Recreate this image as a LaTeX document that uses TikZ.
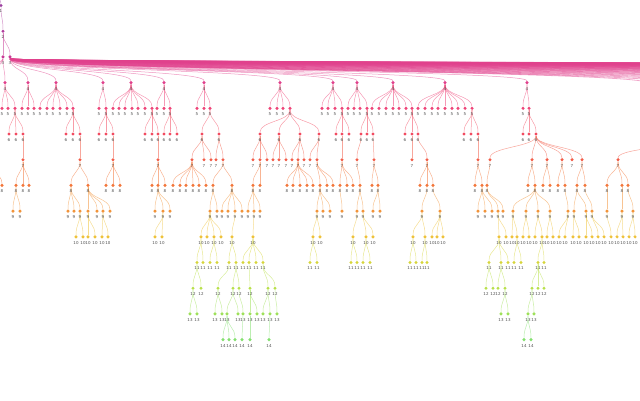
\documentclass[tikz,border=0pt]{standalone}
\usepackage{fontspec}
\setmainfont{DejaVu Sans}
\definecolor{c1}{HTML}{9C3FA0}
\definecolor{c2}{HTML}{B03C9C}
\definecolor{c3}{HTML}{C93A96}
\definecolor{c4}{HTML}{E0408C}
\definecolor{c5}{HTML}{EE4478}
\definecolor{c6}{HTML}{F24A60}
\definecolor{c7}{HTML}{F25C48}
\definecolor{c8}{HTML}{F3763A}
\definecolor{c9}{HTML}{F2943A}
\definecolor{c10}{HTML}{EEC23A}
\definecolor{c11}{HTML}{D6D53A}
\definecolor{c12}{HTML}{B8E04A}
\definecolor{c13}{HTML}{9EE05A}
\definecolor{c14}{HTML}{84E070}
\pgfdeclarelayer{bg}
\pgfsetlayers{bg,main}
\tikzset{
  dot/.style={circle, fill=c#1, draw=none, inner sep=0pt, minimum size=3.4pt},
  lab/.style={font=\fontsize{4}{4}\selectfont, text=black!70, inner sep=0pt},
  edge/.style={c#1, opacity=0.55, line width=0.5pt},
  bund/.style={c4, opacity=0.45, line width=0.8pt}
}
\def\treedata{2/3/1, 3/3/3, 3/10/3,
4/5/3, 4/28/10, 4/56/10, 4/103/10, 4/131/10, 4/164/10, 4/204/10, 4/280/10, 4/333/10, 4/357/10, 4/393/10, 4/445/10, 4/527/10,
5/2/5, 5/8/5, 5/15/5,
5/22/28, 5/28/28, 5/34/28,
5/40/56, 5/47/56, 5/53/56, 5/60/56, 5/67/56, 5/73/56,
5/99/103, 5/106/103,
5/113/131, 5/119/131, 5/125/131, 5/132/131, 5/138/131, 5/145/131, 5/152/131,
5/157/164, 5/164/164, 5/170/164,
5/197/204, 5/204/204, 5/210/204,
5/270/280, 5/277/280, 5/283/280, 5/290/280,
5/322/333, 5/328/333, 5/335/333, 5/342/333,
5/348/357, 5/354/357, 5/360/357, 5/367/357,
5/372/393, 5/379/393, 5/386/393, 5/393/393, 5/399/393, 5/406/393, 5/412/393,
5/418/445, 5/425/445, 5/432/445, 5/438/445, 5/445/445, 5/452/445, 5/458/445, 5/465/445, 5/472/445,
5/523/527, 5/529/527,
6/9/15, 6/16/15, 6/23/15,
6/66/73, 6/73/73, 6/80/73,
6/99/106, 6/106/106, 6/113/106,
6/145/152, 6/152/152, 6/158/152,
6/164/170, 6/170/170, 6/177/170,
6/202/210, 6/219/210,
6/260/290, 6/279/290, 6/300/290, 6/319/290,
6/336/342, 6/342/342, 6/349/342,
6/361/367, 6/367/367, 6/373/367,
6/405/412, 6/412/412, 6/418/412,
6/464/472, 6/471/472, 6/478/472,
6/523/529, 6/529/529, 6/536/529,
7/23/23, 7/80/80, 7/113/113, 7/158/158,
7/192/202, 7/204/202, 7/211/202, 7/216/219, 7/223/219,
7/253/260, 7/260/260, 7/267/260,
7/273/279, 7/279/279, 7/286/279,
7/292/300, 7/298/300, 7/304/300,
7/310/319, 7/317/319,
7/342/342, 7/357/361, 7/374/373,
7/412/412, 7/427/418,
7/478/478, 7/490/536, 7/532/536, 7/547/536, 7/562/536, 7/572/536, 7/582/536,
7/618/o,
8/2/o, 8/16/23, 8/23/23, 8/29/23,
8/71/80, 8/88/80,
8/106/113, 8/113/113, 8/120/113,
8/152/158, 8/158/158, 8/165/158,
8/173/192, 8/180/192, 8/186/192, 8/193/192, 8/199/192, 8/206/192,
8/213/223, 8/232/223,
8/253/260, 8/260/260,
8/287/298, 8/293/298, 8/300/298, 8/307/298, 8/313/298,
8/320/317, 8/327/317, 8/333/317,
8/340/342, 8/347/342, 8/353/342,
8/360/357,
8/372/374, 8/378/374,
8/420/427, 8/427/427, 8/433/427,
8/475/478, 8/482/478,
8/487/490,
8/528/532, 8/535/532,
8/543/547, 8/550/547,
8/558/562, 8/565/562,
8/577/582, 8/585/582,
8/607/618, 8/622/618, 8/628/618,
9/13/16, 9/20/16,
9/68/71, 9/74/71, 9/80/71,
9/88/88, 9/97/88, 9/103/88, 9/110/88,
9/155/158, 9/163/158, 9/170/158,
9/210/213, 9/217/213,
9/222/232, 9/228/232, 9/235/232, 9/242/232,
9/248/253, 9/254/253, 9/260/253,
9/317/320, 9/323/320, 9/330/320,
9/342/340,
9/357/360, 9/363/360,
9/373/378, 9/380/378,
9/422/427, 9/440/433,
9/478/482, 9/485/482, 9/492/482,
9/498/487, 9/503/487,
9/513/535, 9/526/535, 9/538/535, 9/550/535, 9/568/565,
9/574/577, 9/586/577, 9/592/585,
9/607/607, 9/622/622, 9/633/628,
10/76/80, 10/83/80,
10/88/88, 10/95/88,
10/102/103, 10/108/103,
10/155/163, 10/162/163,
10/201/210, 10/207/210, 10/214/210, 10/221/210,
10/232/235,
10/253/254,
10/313/317, 10/320/317,
10/353/357, 10/366/363, 10/373/363,
10/413/422, 10/425/422,
10/432/440, 10/437/440, 10/443/440,
10/499/498, 10/506/498,
10/512/513, 10/517/513,
10/523/526, 10/529/526,
10/535/538, 10/542/538,
10/547/550, 10/553/550,
10/559/568, 10/565/568,
10/573/574, 10/579/574,
10/586/586, 10/592/586,
10/598/592, 10/604/592,
10/611/607, 10/617/622, 10/623/622,
10/629/633, 10/635/633,
11/197/201, 11/203/201,
11/210/214, 11/217/214,
11/229/232, 11/236/232,
11/243/253, 11/249/253, 11/256/253, 11/263/253,
11/310/313, 11/317/313,
11/351/353, 11/357/353, 11/363/366, 11/370/366,
11/410/413, 11/416/413, 11/422/425, 11/427/425,
11/489/499, 11/501/499, 11/508/499,
11/514/517, 11/521/517,
11/538/542, 11/544/542,
12/193/197, 12/201/197,
12/218/229, 12/233/236, 12/239/236,
12/250/249,
12/268/263, 12/275/263,
12/486/489, 12/493/489,
12/498/501, 12/505/501,
12/532/538, 12/538/538, 12/544/538,
13/190/193, 13/197/193,
13/215/218, 13/222/218,
13/227/233, 13/238/233,
13/243/239,
13/250/250, 13/257/250,
13/263/268, 13/270/268,
13/277/275,
13/501/505, 13/508/505,
13/528/532, 13/534/532,
14/223/227, 14/229/227, 14/235/227,
14/242/243,
14/250/250,
14/269/270,
14/524/528, 14/531/528}
\begin{document}
\begin{tikzpicture}[x=1pt,y=-1pt]
\useasboundingbox (0,0) rectangle (640,400);
\clip (0,0) rectangle (640,400);
% off-canvas anchors
\coordinate (n0-o) at (-20,-20.2);
\coordinate (n6-o) at (700,134.4);
\coordinate (n7-o) at (-12,160.1);
\coordinate (offa) at (-25,83.2);
\coordinate (offb) at (-70,83.2);
\coordinate (offc) at (-140,83.2);
% nodes
\node[dot=1] (n1-1) at (1,5.5) {};
\node[lab] (t1-1) at (1,11.5) {1};
\foreach \d/\x/\px in \treedata {%
  \pgfmathsetmacro\yy{5.5+(\d-1)*25.7}%
  \node[dot=\d] (n\d-\x) at (\x,\yy) {};
  \node[lab] (t\d-\x) at (\x,\yy+6) {\d};
}
% connectors
\begin{pgfonlayer}{bg}
\draw[edge=1] (n0-o) .. controls +(0,12.85) and +(0,-12.85) .. (n1-1);
\foreach \c in {offa,offb,offc}{
  \draw[edge=4] (n3-3) .. controls +(0,12.85) and +(0,-12.85) .. (\c);
}
\foreach \k in {4,...,72}{
  \pgfmathsetmacro\tx{610+2.4*\k*\k}
  \coordinate (far\k) at (\tx,83.2);
  \draw[bund] (n3-10) .. controls +(0,12.85) and +(0,-12.85) .. (far\k);
}
\foreach \d/\x/\px in \treedata {%
  \pgfmathtruncatemacro\pd{\d-1}%
  \draw[edge=\d] (n\pd-\px) .. controls +(0,12.85) and +(0,-12.85) .. (n\d-\x);
}
\end{pgfonlayer}
\end{tikzpicture}
\end{document}
